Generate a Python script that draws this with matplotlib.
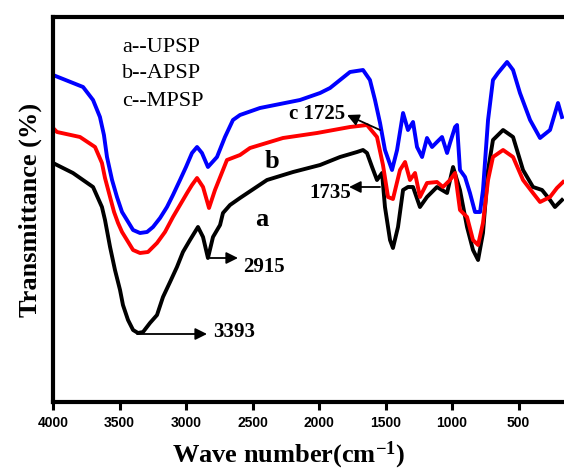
import matplotlib
matplotlib.use("Agg")
import matplotlib.pyplot as plt

plt.rcParams['mathtext.fontset'] = 'custom'
plt.rcParams['mathtext.rm'] = 'Liberation Serif:bold'
plt.rcParams['mathtext.bf'] = 'Liberation Serif:bold'
plt.rcParams['mathtext.it'] = 'Liberation Serif:bold'

# Curve a (UPSP) - black
wn_a = [4000, 3970, 3850, 3699, 3632, 3609, 3571, 3534, 3496, 3474, 3436, 3398, 3361, 3323,
        3271, 3218, 3173, 3120, 3068, 3023, 2970, 2910,
        2872, 2835, 2797, 2744, 2722, 2669, 2594, 2391, 2195, 1992, 1842, 1714, 1669, 1639,
        1601, 1564, 1526, 1504, 1466, 1444, 1406, 1368, 1331, 1293, 1241, 1188, 1113, 1037,
        992, 940, 887, 842, 804, 767, 729, 692, 616, 541, 466, 391, 323, 263, 226, 173]
t_a = [239, 237, 229, 215, 195, 182, 155, 132, 112, 97, 82, 72, 69, 70,
       79, 87, 105, 120, 135, 150, 162, 175,
       165, 144, 165, 177, 189, 197, 204, 222, 230, 237, 245, 250, 252, 249,
       235, 222, 229, 195, 162, 154, 175, 212, 215, 215, 195, 205, 215, 209,
       235, 212, 175, 152, 142, 169, 232, 262, 272, 265, 232, 215, 212, 202, 195, 202]

# Curve b (APSP) - red
wn_b = [4000, 3970, 3797, 3684, 3632, 3609, 3571, 3541, 3511, 3481, 3444, 3398, 3346, 3286,
        3218, 3158, 3098, 3045, 2992, 2955, 2917, 2872,
        2827, 2782, 2692, 2594, 2519, 2271, 2015, 1767, 1639, 1564, 1519, 1481, 1444, 1391,
        1353, 1316, 1278, 1241, 1188, 1113, 1068, 1015, 977, 940, 887, 842, 804, 767, 729,
        692, 616, 541, 466, 391, 338, 263, 211, 165]
t_b = [274, 270, 265, 255, 239, 224, 205, 190, 179, 170, 162, 152, 149, 150,
       159, 170, 185, 197, 209, 217, 224, 215,
       194, 212, 242, 247, 254, 264, 269, 275, 277, 265, 237, 205, 203, 232,
       240, 222, 229, 205, 219, 220, 215, 222, 229, 192, 185, 162, 157, 179, 222,
       245, 252, 245, 222, 209, 200, 205, 214, 220]

# Curve c (MPSP) - blue
wn_c = [4000, 3774, 3699, 3647, 3617, 3594, 3556, 3519, 3481, 3444, 3398, 3346, 3293, 3248,
        3195, 3143, 3098, 3045, 3000, 2955, 2917, 2880,
        2835, 2767, 2707, 2647, 2594, 2444, 2143, 1992, 1917, 1842, 1767, 1669, 1617, 1579,
        1541, 1504, 1451, 1413, 1368, 1331, 1293, 1263, 1225, 1188, 1150, 1113, 1075, 1037,
        1015, 977, 962, 940, 902, 865, 827, 789, 767, 729, 692, 654, 586, 541, 489, 413,
        338, 263, 203, 173]
t_c = [327, 315, 302, 285, 267, 245, 222, 205, 190, 182, 172, 169, 170, 175,
       184, 195, 207, 222, 235, 249, 255, 249,
       235, 245, 265, 282, 287, 294, 302, 309, 314, 322, 330, 332, 322, 302,
       279, 252, 232, 252, 289, 272, 280, 255, 245, 264, 255, 260, 265, 249,
       259, 275, 277, 232, 225, 209, 190, 190, 212, 282, 322, 329, 340, 332, 309, 282,
       264, 272, 299, 285]

xticks = [4000, 3500, 3000, 2500, 2000, 1500, 1000, 500]
legend_lines = ["a--UPSP", "b--APSP", "c--MPSP"]

fig = plt.figure(figsize=(5.64, 4.74), dpi=100)
ax = fig.add_axes([53/564, 72/474, (571.7-53)/564, 385/474])

ax.plot(wn_a, t_a, color='black', lw=2.8, solid_joinstyle='round')
ax.plot(wn_b, t_b, color='#ff0000', lw=2.8, solid_joinstyle='round')
ax.plot(wn_c, t_c, color='#0000ff', lw=2.8, solid_joinstyle='round')

ax.set_xlim(4000, 100)
ax.set_ylim(0, 385)
ax.set_xticks(xticks)
ax.set_xticklabels([str(v) for v in xticks], fontfamily='Liberation Sans',
                   fontweight='bold', fontsize=10)
ax.set_yticks([])
ax.tick_params(axis='x', direction='out', length=6, width=2.2, pad=4)
for s in ax.spines.values():
    s.set_linewidth(3)

ax.set_xlabel(r"Wave number(cm$^{-1}$)", fontfamily='Liberation Serif',
              fontweight='bold', fontsize=19)
ax.xaxis.set_label_coords(0.455, -0.098)
ax.set_ylabel("Transmittance (%)", fontfamily='Liberation Serif',
              fontweight='bold', fontsize=19)
ax.yaxis.set_label_coords(-0.022, 0.499)

# legend-like text
for txt, yv in zip(legend_lines, [354, 328, 301]):
    ax.text(3481, yv, txt, fontfamily='Liberation Serif', fontsize=16,
            ha='left', va='center')

bold = dict(fontfamily='Liberation Serif', fontweight='bold')
arr = dict(arrowstyle='-|>,head_length=0.7,head_width=0.35', color='black',
           lw=1.3, shrinkA=0, shrinkB=0)

ax.annotate('', xy=(2842, 68), xytext=(3368, 68), arrowprops=arr)
ax.text(2797, 70, '3393', ha='left', va='center', fontsize=15, **bold)

ax.annotate('', xy=(2609, 144), xytext=(2820, 144), arrowprops=arr)
ax.text(2571, 135, '2915', ha='left', va='center', fontsize=15, **bold)

ax.annotate('', xy=(1774, 215), xytext=(1541, 215), arrowprops=arr)
ax.text(1760, 209, '1735', ha='right', va='center', fontsize=15, **bold)

ax.annotate('', xy=(1789, 287), xytext=(1541, 272), arrowprops=arr)
ax.text(1804, 288, 'c 1725', ha='right', va='center', fontsize=15, **bold)

ax.text(2353, 240, 'b', ha='center', va='center', fontsize=19, **bold)
ax.text(2429, 182, 'a', ha='center', va='center', fontsize=19, **bold)

fig.savefig('out.png', dpi=100)
